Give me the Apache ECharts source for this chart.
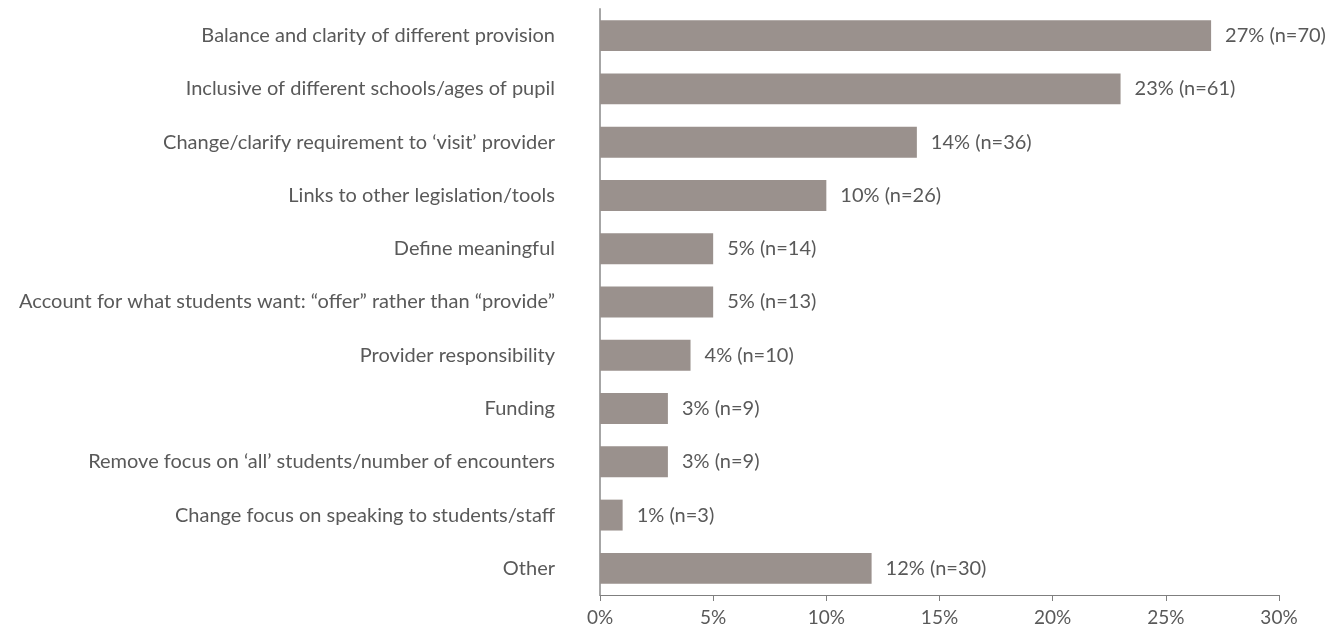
<!DOCTYPE html>
<html>
<head>
<meta charset="utf-8">
<script src="https://cdn.jsdelivr.net/npm/echarts@6/dist/echarts.min.js"></script>
<style>
html,body{margin:0;padding:0;background:#fff;}
#chart{width:1344px;height:632px;}
</style>
</head>
<body>
<div id="chart"></div>
<script>
const categories = [
  "Balance and clarity of different provision",
  "Inclusive of different schools/ages of pupil",
  "Change/clarify requirement to \u2018visit\u2019 provider",
  "Links to other legislation/tools",
  "Define meaningful",
  "Account for what students want: \u201coffer\u201d rather than \u201cprovide\u201d",
  "Provider responsibility",
  "Funding",
  "Remove focus on \u2018all\u2019 students/number of encounters",
  "Change focus on speaking to students/staff",
  "Other"
];
const percentValues = [27, 23, 14, 10, 5, 5, 4, 3, 3, 1, 12];
const counts = [70, 61, 36, 26, 14, 13, 10, 9, 9, 3, 30];
const xTicks = [0, 5, 10, 15, 20, 25, 30];

const FONT = "Lato";
const chart = echarts.init(document.getElementById('chart'));
chart.setOption({
  animation: false,
  grid: { left: 600, right: 65, top: 9, height: 586, containLabel: false },
  xAxis: {
    type: 'value',
    min: xTicks[0],
    max: xTicks[xTicks.length - 1],
    interval: 5,
    axisLine: { show: true, lineStyle: { color: '#7f7f7f', width: 1 } },
    axisTick: { show: true, length: 6, lineStyle: { color: '#7f7f7f' } },
    splitLine: { show: false },
    axisLabel: {
      formatter: v => v + '%',
      color: '#595959',
      fontFamily: FONT,
      fontSize: 19,
      margin: 13
    }
  },
  yAxis: {
    type: 'category',
    inverse: true,
    data: categories,
    axisLine: { show: true, lineStyle: { color: '#a6a6a6', width: 2 } },
    axisTick: { show: false },
    axisLabel: {
      color: '#595959',
      fontFamily: FONT,
      fontSize: 20,
      margin: 45
    }
  },
  series: [{
    type: 'bar',
    data: percentValues,
    barCategoryGap: '42%',
    itemStyle: { color: '#9a918d' },
    label: {
      show: true,
      position: 'right',
      distance: 14,
      color: '#595959',
      fontFamily: FONT,
      fontSize: 20,
      formatter: p => percentValues[p.dataIndex] + '% (n=' + counts[p.dataIndex] + ')'
    }
  }]
});
</script>
</body>
</html>
